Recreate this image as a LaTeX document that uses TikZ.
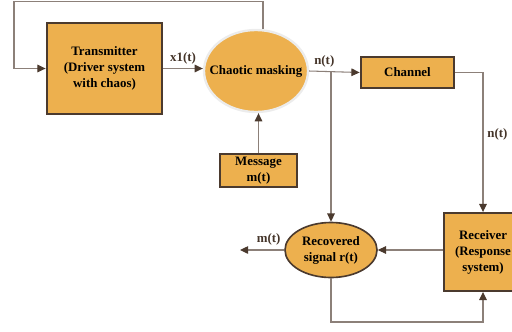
\documentclass[tikz,border=0pt]{standalone}
\usepackage{fontspec}
\setmainfont{Liberation Serif}
\usetikzlibrary{arrows.meta,shapes.geometric}
\definecolor{boxfill}{HTML}{EDB04E}
\definecolor{boxline}{HTML}{4B3A2E}
\definecolor{wire}{HTML}{8C8079}
% text that does not widen an ellipse
\newcommand{\tight}[1]{\makebox[0pt]{#1}}

\begin{document}
\begin{tikzpicture}[x=0.03cm,y=-0.03cm,
    font=\fontsize{11}{13.6}\selectfont\bfseries,
    blk/.style={draw=boxline,fill=boxfill,align=center,inner sep=0pt},
    sig/.style={draw=wire,line width=0.9pt,
        -{Triangle[length=7pt,width=6.5pt,color=boxline]}},
    lbl/.style={text=boxline!90!black}]
    \useasboundingbox (0,0) rectangle (512,331);
% Blocks
    \node[blk,line width=2.4pt,minimum width=3.45cm,minimum height=2.73cm] (tx) at (104.5,68.5)
        {Transmitter\\(Driver system\\with chaos)};
    \node[blk,ellipse,draw=gray!15,line width=2pt,minimum width=3.12cm,minimum height=2.46cm] (chaos) at (256,71)
        {\tight{Chaotic masking}};
    \node[blk,line width=2.4pt,minimum width=2.79cm,minimum height=0.93cm] (ch) at (407.5,72.5) {Channel};
    \node[blk,line width=1.6pt,minimum width=2.31cm,minimum height=0.99cm] (msg) at (258.5,170.5)
        {Message\\m(t)};
    \node[blk,ellipse,line width=1.4pt,minimum width=2.76cm,minimum height=1.65cm] (rec) at (331,250)
        {\tight{Recovered}\\\tight{signal r(t)}};
    \node[blk,line width=1.6pt,minimum width=2.34cm,minimum height=2.34cm] (rx) at (483,252)
        {Receiver\\(Response\\system)};
% Helper points
    \coordinate (fbtop) at (263,1.5);
    \coordinate (fbleft) at (14,1.5);
    \coordinate (br) at (331,72);
    \coordinate (out) at (240,250);
    \coordinate (loop) at (400,322);
% Connectors
    \draw[sig] (chaos.north -| fbtop) |- (fbleft) |- (tx.west);
    \draw[sig] (tx.east) -- (tx.east -| chaos.west) node[midway,above,lbl] {x1(t)};
    \draw[sig] (chaos.east) -- (ch.west) node[pos=0.3,above,lbl] {n(t)};
    \draw[sig] (br) -- (rec.north);
    \draw[sig] (ch.east) -| (rx.north) node[pos=0.72,right,lbl] {n(t)};
    \draw[sig] (msg.north) -- (msg.north |- chaos.south);
    \draw[sig] (rx.west |- rec.east) -- (rec.east);
    \draw[sig] (rec.west) -- (out) node[pos=0.35,above,lbl] {m(t)};
    \draw[sig] (rec.south) |- (loop) -| (rx.south);
\end{tikzpicture}
\end{document}
